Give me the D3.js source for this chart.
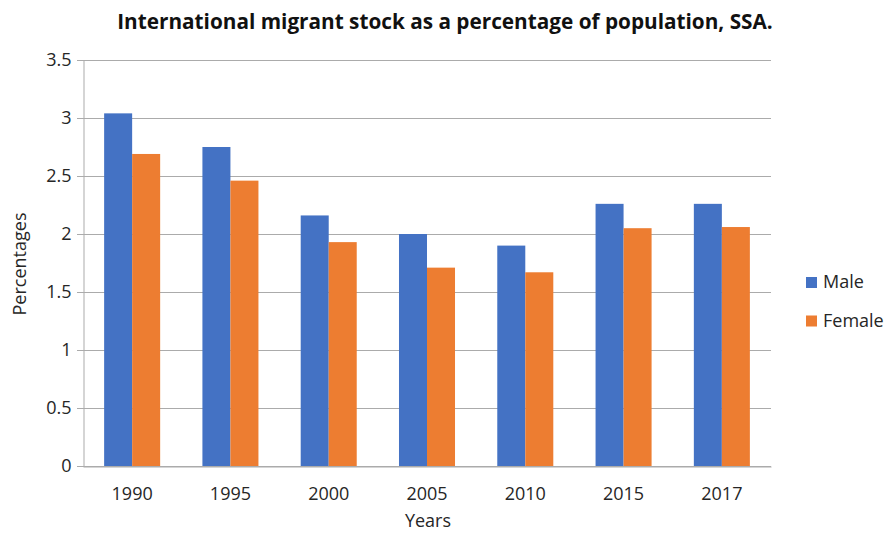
<!DOCTYPE html>
<html>
<head>
<meta charset="utf-8">
<script src="https://cdn.jsdelivr.net/npm/d3@7"></script>
<style>
  body { margin: 0; background: #fff; }
  text { font-family: "Open Sans", sans-serif; }
</style>
</head>
<body>
<svg id="chart"></svg>
<script>
width = 886;
height = 534;

// data
var years = ['1990', '1995', '2000', '2005', '2010', '2015', '2017'];
var male = [3.04, 2.75, 2.16, 2.0, 1.9, 2.26, 2.26];
var female = [2.69, 2.46, 1.93, 1.71, 1.67, 2.05, 2.06];
var seriesNames = ['Male', 'Female'];
var seriesColors = ['#4472C4', '#ED7D31'];
var yTicks = [0, 0.5, 1, 1.5, 2, 2.5, 3, 3.5];

var plotLeft = 83, plotRight = 771, plotTop = 60, plotBottom = 466;
var fontFam = '"Open Sans", sans-serif';
var textCol = '#262626';
var fs = 18;

var svg = d3.select('#chart')
	.attr('width', width)
	.attr('height', height);

var x = d3.scaleBand()
	.domain(years)
	.range([plotLeft, plotRight])
	.paddingInner(0.43)
	.paddingOuter(0.215);

var xSub = d3.scaleBand()
	.domain(seriesNames)
	.range([0, x.bandwidth()]);

var y = d3.scaleLinear()
	.domain([0, 3.5])
	.range([plotBottom, plotTop]);

// gridlines
svg.append('g')
	.selectAll('line')
	.data(yTicks)
	.join('line')
		.attr('x1', plotLeft - 6)
		.attr('x2', plotRight)
		.attr('y1', d => Math.round(y(d)) + 0.5)
		.attr('y2', d => Math.round(y(d)) + 0.5)
		.attr('stroke', '#ababab')
		.attr('stroke-width', 1);

// y axis
var yAxis = svg.append('g')
	.attr('transform', `translate(${plotLeft + 0.5},0)`)
	.call(d3.axisLeft(y).tickValues(yTicks).tickSize(6).tickPadding(6).tickFormat(d => d));
yAxis.select('.domain').attr('stroke', '#ababab');
yAxis.selectAll('.tick line').attr('stroke', '#ababab');
yAxis.selectAll('.tick text')
	.attr('font-size', fs)
	.attr('font-family', fontFam)
	.attr('fill', textCol);

// bars
var groups = svg.append('g')
	.selectAll('g')
	.data(years)
	.join('g')
		.attr('transform', d => `translate(${x(d)},0)`);

groups.selectAll('rect')
	.data((d, i) => [
		{name: 'Male', value: male[i]},
		{name: 'Female', value: female[i]}
	])
	.join('rect')
		.attr('x', d => xSub(d.name))
		.attr('y', d => y(d.value))
		.attr('width', xSub.bandwidth())
		.attr('height', d => y(0) - y(d.value))
		.attr('fill', (d, i) => seriesColors[i]);

// x axis
var xAxis = svg.append('g')
	.attr('transform', `translate(0,${Math.round(y(0)) + 0.5})`)
	.call(d3.axisBottom(x).tickSize(0).tickPadding(21));
xAxis.select('.domain').attr('stroke', '#ababab');
xAxis.selectAll('.tick text')
	.attr('font-size', fs)
	.attr('font-family', fontFam)
	.attr('fill', textCol);

// title, sized to span the same width as in the picture
var title = svg.append('text')
	.attr('x', 445)
	.attr('y', 29)
	.attr('text-anchor', 'middle')
	.attr('font-size', 20)
	.attr('font-weight', 'bold')
	.attr('fill', '#111')
	.text('International migrant stock as a percentage of population, SSA.');
var tw = title.node().getComputedTextLength();
title.attr('font-size', 20 * 656 / tw);

// axis titles
svg.append('text')
	.attr('x', 428)
	.attr('y', 527)
	.attr('text-anchor', 'middle')
	.attr('font-size', fs)
	.attr('fill', textCol)
	.text('Years');

svg.append('text')
	.attr('transform', 'translate(26,264) rotate(-90)')
	.attr('text-anchor', 'middle')
	.attr('font-size', fs)
	.attr('fill', textCol)
	.text('Percentages');

// legend
var legend = svg.append('g')
	.selectAll('g')
	.data(seriesNames)
	.join('g')
		.attr('transform', (d, i) => `translate(806,${277 + i * 38.5})`);
legend.append('rect')
	.attr('width', 11)
	.attr('height', 11)
	.attr('fill', (d, i) => seriesColors[i]);
legend.append('text')
	.attr('x', 17)
	.attr('y', 11)
	.attr('font-size', fs)
	.attr('fill', textCol)
	.text(d => d);
</script>
</body>
</html>
